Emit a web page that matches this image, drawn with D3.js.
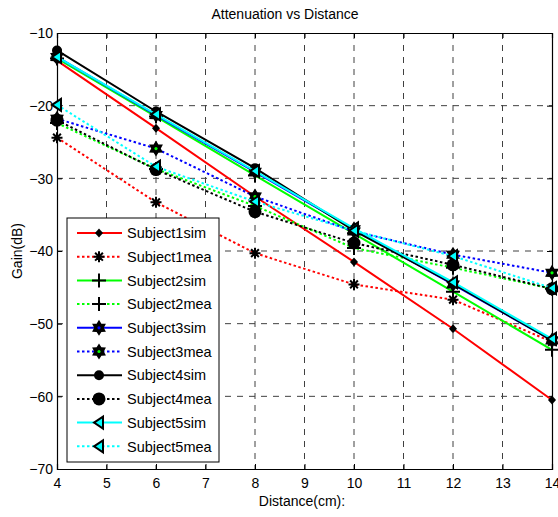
<!DOCTYPE html>
<html>
<head>
<meta charset="utf-8">
<script src="https://cdn.jsdelivr.net/npm/d3@7"></script>
<style>
  body { margin: 0; background: #fff; }
  svg { display: block; font-family: "Liberation Sans", Arial, sans-serif; }
</style>
</head>
<body>
<svg id="chart" width="558" height="517"></svg>
<script>
// distances (cm)
const distance = [4, 6, 8, 10, 12, 14];

// gain (dB) per series
const subject1sim = [-13.8, -23.1, -32.5, -41.5, -50.7, -60.5];
const subject1mea = [-24.4, -33.3, -40.3, -44.6, -46.7, -52.5];
const subject2sim = [-13.5, -21.5, -29.6, -37.6, -45.6, -53.6];
const subject2mea = [-22.4, -28.7, -33.8, -39.6, -42.3, -45.2];
const subject3sim = [-13.3, -21.3, -29.1, -37.0, -44.6, -52.3];
const subject3mea = [-21.8, -25.9, -32.5, -37.3, -40.5, -43.0];
const subject4sim = [-12.4, -20.8, -28.6, -37.2, -44.5, -52.3];
const subject4mea = [-22.0, -28.8, -34.6, -38.9, -41.9, -45.2];
const subject5sim = [-13.3, -21.2, -29.0, -36.9, -44.3, -52.1];
const subject5mea = [-19.9, -28.4, -33.2, -37.2, -40.7, -45.1];

const xTicks = [4, 5, 6, 7, 8, 9, 10, 11, 12, 13, 14];
const yTicks = [-10, -20, -30, -40, -50, -60, -70];

const series = [
  { name: 'Subject1sim', values: subject1sim, color: '#ff0000', dotted: false, marker: 'diamond' },
  { name: 'Subject1mea', values: subject1mea, color: '#ff0000', dotted: true, marker: 'asterisk' },
  { name: 'Subject2sim', values: subject2sim, color: '#00ff00', dotted: false, marker: 'plus' },
  { name: 'Subject2mea', values: subject2mea, color: '#00ff00', dotted: true, marker: 'plus' },
  { name: 'Subject3sim', values: subject3sim, color: '#0000ff', dotted: false, marker: 'hexagram', face: '#0000ff' },
  { name: 'Subject3mea', values: subject3mea, color: '#0000ff', dotted: true, marker: 'hexagram', face: '#00ff00' },
  { name: 'Subject4sim', values: subject4sim, color: '#000000', dotted: false, marker: 'circle', r: 5 },
  { name: 'Subject4mea', values: subject4mea, color: '#000000', dotted: true, marker: 'circle', r: 6.5 },
  { name: 'Subject5sim', values: subject5sim, color: '#00ffff', dotted: false, marker: 'triangle' },
  { name: 'Subject5mea', values: subject5mea, color: '#00ffff', dotted: true, marker: 'triangle' }
];

const margin = { top: 33, right: 6, bottom: 48, left: 57 };
const width = 558 - margin.left - margin.right;
const height = 517 - margin.top - margin.bottom;

const svg = d3.select('#chart');
const chart = svg.append('g')
  .attr('transform', `translate(${margin.left}, ${margin.top})`);

const xScale = d3.scaleLinear().domain([4, 14]).range([0, width]);
const yScale = d3.scaleLinear().domain([-70, -10]).range([height, 0]);

// grid
chart.append('g')
  .selectAll('line')
  .data(xTicks.slice(1, -1))
  .join('line')
  .attr('x1', (d) => xScale(d)).attr('x2', (d) => xScale(d))
  .attr('y1', 0).attr('y2', height)
  .attr('stroke', '#404040').attr('stroke-width', 1)
  .attr('stroke-dasharray', '6,6');

chart.append('g')
  .selectAll('line')
  .data(yTicks.slice(1, -1))
  .join('line')
  .attr('x1', 0).attr('x2', width)
  .attr('y1', (d) => yScale(d)).attr('y2', (d) => yScale(d))
  .attr('stroke', '#404040').attr('stroke-width', 1)
  .attr('stroke-dasharray', '6,6');

// axes
const xAxis = chart.append('g')
  .attr('transform', `translate(0, ${height})`)
  .call(d3.axisBottom(xScale).tickValues(xTicks).tickSize(-5).tickPadding(9).tickFormat(d3.format('d')));
const yAxis = chart.append('g')
  .call(d3.axisLeft(yScale).tickValues(yTicks).tickSize(-5).tickPadding(4).tickFormat(d3.format('d')));
chart.append('g')
  .call(d3.axisTop(xScale).tickValues(xTicks).tickSize(-5).tickFormat(''));
chart.append('g')
  .attr('transform', `translate(${width}, 0)`)
  .call(d3.axisRight(yScale).tickValues(yTicks).tickSize(-5).tickFormat(''));

chart.selectAll('.domain').attr('stroke', '#000').attr('stroke-width', 1.2);
chart.selectAll('.tick line').attr('stroke', '#000');
[xAxis, yAxis].forEach((a) => a.selectAll('text')
  .style('font-size', '14px').style('fill', '#000')
  .style('font-family', '"Liberation Sans", Arial, sans-serif'));
yAxis.selectAll('text').attr('dy', '0.35em');

// marker drawing
const drawMarker = (g, s, x, y) => {
  const m = g.append('g').attr('transform', `translate(${x}, ${y})`);
  if (s.marker === 'diamond') {
    m.append('path').attr('d', 'M0,-4.5L4,0L0,4.5L-4,0Z').attr('fill', '#000');
  } else if (s.marker === 'asterisk') {
    const r = 5.5;
    const d = [0, 45, 90, 135].map((a) => {
      const c = Math.cos(a * Math.PI / 180) * r;
      const sn = Math.sin(a * Math.PI / 180) * r;
      return `M${-c},${-sn}L${c},${sn}`;
    }).join('');
    m.append('path').attr('d', d).attr('stroke', '#000').attr('stroke-width', 2);
  } else if (s.marker === 'plus') {
    m.append('path').attr('d', 'M-7,0L7,0M0,-7L0,7').attr('stroke', '#000').attr('stroke-width', 2);
  } else if (s.marker === 'hexagram') {
    const pts = d3.range(12).map((i) => {
      const a = (i * 30 - 90) * Math.PI / 180;
      const r = i % 2 === 0 ? 8 : 4.8;
      return [Math.cos(a) * r, Math.sin(a) * r];
    });
    m.append('path').attr('d', 'M' + pts.join('L') + 'Z').attr('fill', '#000');
    m.append('circle').attr('r', 1.6).attr('fill', s.face);
  } else if (s.marker === 'circle') {
    m.append('circle').attr('r', s.r).attr('fill', '#000');
  } else if (s.marker === 'triangle') {
    m.append('path').attr('d', 'M-5,0L4,-6L4,6Z')
      .attr('fill', s.color).attr('stroke', '#000').attr('stroke-width', 2)
      .attr('stroke-linejoin', 'miter');
  }
};

const line = d3.line()
  .x((d, i) => xScale(distance[i]))
  .y((d) => yScale(d));

series.forEach((s) => {
  const g = chart.append('g');
  g.append('path')
    .datum(s.values)
    .attr('d', line)
    .attr('fill', 'none')
    .attr('stroke', s.color)
    .attr('stroke-width', 2)
    .attr('stroke-dasharray', s.dotted ? '2.5,2.5' : null);
  s.values.forEach((v, i) => drawMarker(g, s, xScale(distance[i]), yScale(v)));
});

// legend
const legend = svg.append('g').attr('transform', 'translate(67, 218)');
legend.append('rect')
  .attr('width', 152).attr('height', 244)
  .attr('fill', '#fff').attr('stroke', '#000').attr('stroke-width', 1);
series.forEach((s, i) => {
  const y = 15 + i * 23.7;
  legend.append('line')
    .attr('x1', 10).attr('x2', 55).attr('y1', y).attr('y2', y)
    .attr('stroke', s.color).attr('stroke-width', 2)
    .attr('stroke-dasharray', s.dotted ? '2.5,2.5' : null);
  drawMarker(legend, s, 32, y);
  legend.append('text')
    .attr('x', 60).attr('y', y).attr('dy', '0.36em')
    .style('font-size', '14.5px')
    .text(s.name);
});

// titles
svg.append('text')
  .attr('x', 285).attr('y', 19)
  .attr('text-anchor', 'middle')
  .style('font-size', '14px')
  .text('Attenuation vs Distance');

svg.append('text')
  .attr('x', 302).attr('y', 506)
  .attr('text-anchor', 'middle')
  .style('font-size', '14px')
  .text('Distance(cm):');

svg.append('text')
  .attr('transform', `translate(22, ${margin.top + height / 2}) rotate(-90)`)
  .attr('text-anchor', 'middle')
  .style('font-size', '14px')
  .text('Gain(dB)');
</script>
</body>
</html>
